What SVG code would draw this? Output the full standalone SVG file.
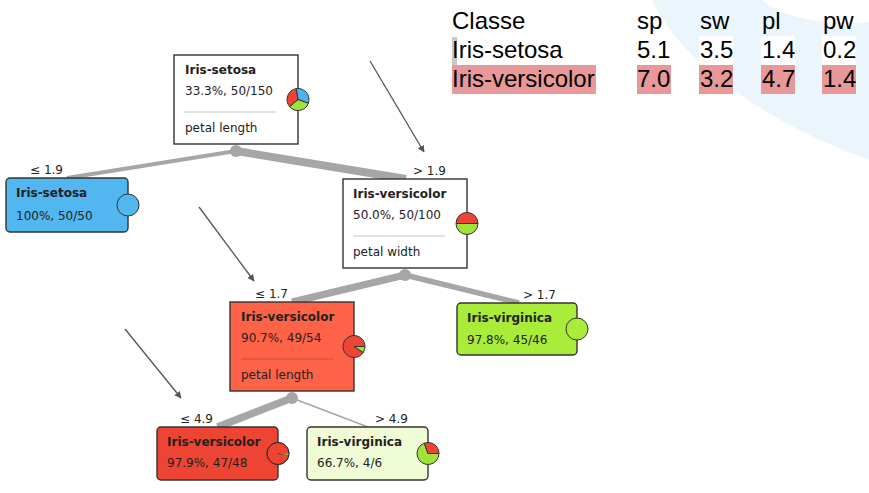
<svg xmlns="http://www.w3.org/2000/svg" width="869" height="493" viewBox="0 0 869 493">
<defs>
<style>
.t{font-family:"DejaVu Sans",Verdana,sans-serif;font-size:12px;fill:#222}
.b{font-weight:bold}
.tbl{font-family:"Liberation Sans",Arial,sans-serif;font-size:24px;fill:#000}
.box{stroke:#333;stroke-width:1.4}
.sep{stroke:#000;stroke-opacity:0.22;stroke-width:1}
.edge{stroke:#a6a6a6;fill:none;stroke-linecap:butt}
.pie{stroke:#333;stroke-width:1}
.arr{stroke:#555;stroke-width:1.3;fill:none}
</style>
<marker id="ah" viewBox="0 0 10 10" refX="9" refY="5" markerWidth="7" markerHeight="7" markerUnits="userSpaceOnUse" orient="auto">
<path d="M0 0 L10 5 L0 10 Z" fill="#555"/>
</marker>
</defs>
<rect width="869" height="493" fill="#fff"/>
<path d="M652 0 C680 60 760 120 869 160 L869 0 Z" fill="#ebf5fc"/>
<path d="M762 0 C780 18 830 26 869 22 L869 0 Z" fill="#fff"/>

<g id="table">
<rect x="452" y="37" width="5" height="28" fill="#c8c8c8"/>
<rect x="699" y="36" width="34" height="29" fill="#fff"/>
<rect x="761" y="36" width="34" height="29" fill="#fff"/>
<rect x="822" y="36" width="34" height="29" fill="#fff"/>
<rect x="452" y="65" width="144" height="29" fill="#e89898"/>
<rect x="637" y="65" width="34" height="29" fill="#e89898"/>
<rect x="699" y="65" width="34" height="29" fill="#e89898"/>
<rect x="761" y="65" width="34" height="29" fill="#e89898"/>
<rect x="822" y="65" width="34" height="29" fill="#e89898"/>
<text class="tbl" x="452" y="29">Classe</text>
<text class="tbl" x="637" y="29">sp</text>
<text class="tbl" x="700" y="29">sw</text>
<text class="tbl" x="762" y="29">pl</text>
<text class="tbl" x="823" y="29">pw</text>
<text class="tbl" x="452" y="58">Iris-setosa</text>
<text class="tbl" x="637" y="58">5.1</text>
<text class="tbl" x="700" y="58">3.5</text>
<text class="tbl" x="762" y="58">1.4</text>
<text class="tbl" x="823" y="58">0.2</text>
<text class="tbl" x="452" y="87">Iris-versicolor</text>
<text class="tbl" x="637" y="87">7.0</text>
<text class="tbl" x="700" y="87">3.2</text>
<text class="tbl" x="762" y="87">4.7</text>
<text class="tbl" x="823" y="87">1.4</text>
</g>

<g id="connectors">
<line class="edge" x1="236" y1="151" x2="67" y2="178" stroke-width="4"/>
<line class="edge" x1="236" y1="151" x2="406" y2="179" stroke-width="8"/>
<line class="edge" x1="405" y1="275" x2="292" y2="302" stroke-width="7"/>
<line class="edge" x1="405" y1="275" x2="519" y2="303" stroke-width="5.5"/>
<line class="edge" x1="292" y1="398" x2="217.5" y2="427" stroke-width="7.5"/>
<line class="edge" x1="292" y1="398" x2="368" y2="427" stroke-width="1.5"/>
<circle cx="236" cy="151" r="6" fill="#a6a6a6"/>
<circle cx="405" cy="275" r="6" fill="#a6a6a6"/>
<circle cx="292" cy="398" r="6" fill="#a6a6a6"/>
<text class="t" x="63" y="174" text-anchor="end">≤ 1.9</text>
<text class="t" x="413" y="175">&gt; 1.9</text>
<text class="t" x="288" y="298" text-anchor="end">≤ 1.7</text>
<text class="t" x="523" y="299">&gt; 1.7</text>
<text class="t" x="213" y="423" text-anchor="end">≤ 4.9</text>
<text class="t" x="375" y="423">&gt; 4.9</text>
<line class="arr" x1="370" y1="61" x2="424" y2="152" marker-end="url(#ah)"/>
<line class="arr" x1="199" y1="207" x2="254" y2="281" marker-end="url(#ah)"/>
<line class="arr" x1="125" y1="329" x2="181" y2="398" marker-end="url(#ah)"/>
</g>

<g id="node-root">
<rect class="box" x="174" y="55" width="124" height="89" fill="#fff"/>
<text class="t b" x="185" y="74">Iris-setosa</text>
<text class="t" x="185" y="95">33.3%, 50/150</text>
<line class="sep" x1="184" y1="112" x2="276" y2="112"/>
<text class="t" x="185" y="132">petal length</text>
<path class="pie" d="M298 99.5 L296.09 88.67 A11 11 0 0 1 308.34 103.26 Z" fill="#4db3f0"/>
<path class="pie" d="M298 99.5 L308.34 103.26 A11 11 0 0 1 289.57 106.57 Z" fill="#9ee33a"/>
<path class="pie" d="M298 99.5 L289.57 106.57 A11 11 0 0 1 296.09 88.67 Z" fill="#ee4433"/>
</g>

<g id="node-setosa">
<rect class="box" x="6" y="178" width="122" height="54" rx="4" fill="#52b6f0"/>
<text class="t b" x="16" y="197">Iris-setosa</text>
<text class="t" x="16" y="220">100%, 50/50</text>
<circle class="pie" cx="128" cy="205" r="11" fill="#52b6f0"/>
</g>

<g id="node-versicolor-1">
<rect class="box" x="343" y="179" width="124" height="89" fill="#fff"/>
<text class="t b" x="353" y="198">Iris-versicolor</text>
<text class="t" x="353" y="219">50.0%, 50/100</text>
<line class="sep" x1="353" y1="236" x2="445" y2="236"/>
<text class="t" x="353" y="256">petal width</text>
<path class="pie" d="M456 223.5 A11 11 0 0 1 478 223.5 Z" fill="#ee4433"/>
<path class="pie" d="M478 223.5 A11 11 0 0 1 456 223.5 Z" fill="#9ee33a"/>
</g>

<g id="node-versicolor-2">
<rect class="box" x="230" y="302" width="124" height="89" fill="#ff6347"/>
<text class="t b" x="241" y="321">Iris-versicolor</text>
<text class="t" x="241" y="342">90.7%, 49/54</text>
<line class="sep" x1="241" y1="359" x2="333" y2="359"/>
<text class="t" x="241" y="379">petal length</text>
<path class="pie" d="M354 346.5 L363.23 352.49 A11 11 0 1 1 365 346.5 Z" fill="#ee4433"/>
<path class="pie" d="M354 346.5 L365 346.5 A11 11 0 0 1 363.23 352.49 Z" fill="#9ee33a"/>
</g>

<g id="node-virginica-1">
<rect class="box" x="457" y="303" width="120" height="52" rx="4" fill="#a9ec3a"/>
<text class="t b" x="467" y="322">Iris-virginica</text>
<text class="t" x="467" y="344">97.8%, 45/46</text>
<circle class="pie" cx="577" cy="329" r="11" fill="#a9ec3a"/>
</g>

<g id="node-versicolor-3">
<rect class="box" x="157" y="427" width="121" height="53" rx="4" fill="#ee4433"/>
<text class="t b" x="167" y="446">Iris-versicolor</text>
<text class="t" x="167" y="467">97.9%, 47/48</text>
<path class="pie" d="M278 453.5 L288.91 454.94 A11 11 0 1 1 289 453.5 Z" fill="#ee4433"/>
<path d="M278 453.5 L289 453.5 L288.91 454.94 Z" fill="#d8e030"/>
<circle cx="278" cy="453.5" r="11" fill="none" stroke="#333" stroke-width="1"/>
</g>

<g id="node-virginica-2">
<rect class="box" x="307" y="427" width="121" height="53" rx="4" fill="#effcd6"/>
<text class="t b" x="317" y="446">Iris-virginica</text>
<text class="t" x="317" y="467">66.7%, 4/6</text>
<path class="pie" d="M428 453.5 L439 453.5 A11 11 0 1 1 424.24 443.16 Z" fill="#9ee33a"/>
<path class="pie" d="M428 453.5 L424.24 443.16 A11 11 0 0 1 439 453.5 Z" fill="#ee4433"/>
</g>
</svg>
